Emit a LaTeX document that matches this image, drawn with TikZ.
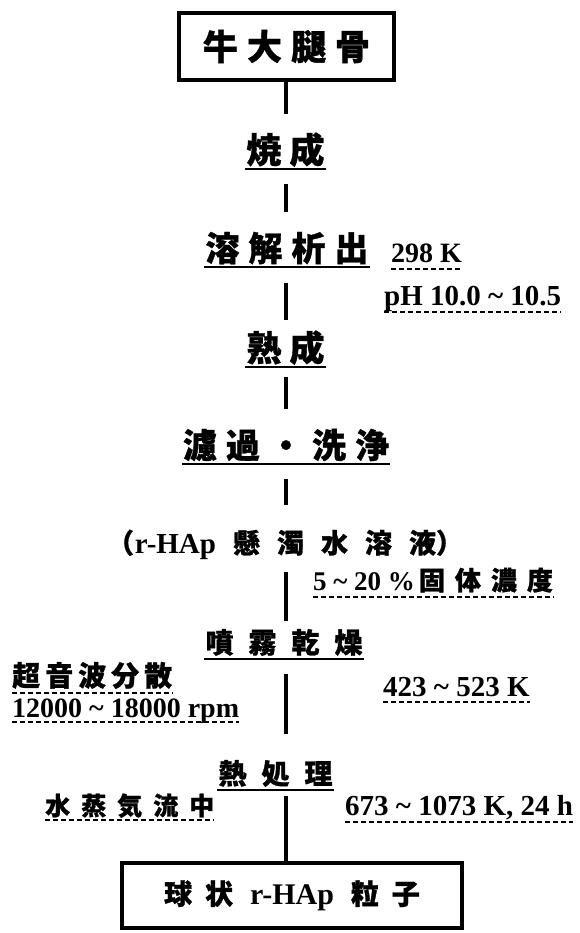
\documentclass[tikz,border=0pt]{standalone}
\usepackage{fontspec}
\setmainfont{Liberation Serif}
\newfontfamily\cjk{Noto Sans CJK JP Bold}[FakeBold=1]
\newcommand\fs[1]{\fontsize{#1}{#1}\selectfont}
\newcommand\ck[1]{\kern#1pt\relax}
\usetikzlibrary{calc}
\begin{document}
\begin{tikzpicture}[x=1pt,y=-1pt,
  every node/.style={inner sep=0pt, font=\bfseries},
  boxnode/.style={draw, line width=3.5pt, inner sep=0pt},
  stepnode/.style={anchor=base},
  lbl/.style={anchor=base west},
  conn/.style={line width=3.5pt},
  ul/.style={line width=2.5pt},
  dul/.style={line width=1.2pt, dash pattern=on 5pt off 3pt}]
\useasboundingbox (0,0) rectangle (580,933);
\fill[white] (0,0) rectangle (580,933);
\coordinate (axis) at (286,0);

% main steps
\node[boxnode, minimum width=215pt, minimum height=67pt] (top) at (286.5,46.5) {\cjk\fs{35}牛\ck9大\ck9腿\ck9骨};
\node[stepnode] (s1) at (285.5,163) {\cjk\fs{35}焼\ck8成};
\node[stepnode] (s2) at (287,261) {\cjk\fs{34}溶\ck9解\ck9析\ck9出};
\node[stepnode] (s3) at (285.5,361) {\cjk\fs{35}熟\ck8成};
\node[stepnode] (s4) at (286,458) {\cjk\fs{34}濾\ck9過\ck9・\ck9洗\ck9浄};
\node[stepnode] (s5) at (285,553) {\cjk\fs{27}（\ck1{\rmfamily\fs{29}r-HAp}\ck{17}懸\ck{17}濁\ck{17}水\ck{17}溶\ck{17}液）};
\node[stepnode] (s6) at (284,653) {\cjk\fs{28}噴\ck{15}霧\ck{15}乾\ck{15}燥};
\node[stepnode] (s7) at (275.5,784) {\cjk\fs{28}熱\ck{15}処\ck{15}理};
\node[boxnode, minimum width=340pt, minimum height=65pt] (bot) at (292,895.5) {\cjk\fs{28}球\ck{13}状\ck{17}{\rmfamily\fs{30}r-HAp}\ck{17}粒\ck{13}子};

% underlines of steps
\foreach \n in {s1,s2,s3,s4,s6,s7}
  \draw[ul] ($(\n.base west)+(-1,6)$) -- ($(\n.base east)+(1,6)$);

% connectors
\draw[conn, shorten >=18pt] (top.south -| axis) -- (s1.north -| axis);
\draw[conn, shorten <=17pt, shorten >=20pt] (s1.south -| axis) -- (s2.north -| axis);
\draw[conn, shorten <=19pt, shorten >=10pt] (s2.south -| axis) -- (s3.north -| axis);
\draw[conn, shorten <=12pt, shorten >=20pt] (s3.south -| axis) -- (s4.north -| axis);
\draw[conn, shorten <=18pt, shorten >=25pt] (s4.south -| axis) -- (s5.north -| axis);
\draw[conn, shorten <=13pt, shorten >=8pt] (s5.south -| axis) -- (s6.north -| axis);
\draw[conn, shorten <=18pt, shorten >=26pt] (s6.south -| axis) -- (s7.north -| axis);
\draw[conn, shorten <=9pt] (s7.south -| axis) -- (bot.north -| axis);

% annotations
\node[lbl] (a1) at (391,262) {\fs{28}298 K};
\node[lbl] (a2) at (384,305) {\fs{29}pH 10.0 \textasciitilde{} 10.5};
\node[lbl] (a3) at (313,590) {\fs{27}5 \textasciitilde{} 20 \%\ck4{\cjk\fs{26}固\ck{10}体\ck{10}濃\ck{10}度}};
\node[lbl] (a4) at (12,686) {\cjk\fs{28}超\ck5音\ck5波\ck5分\ck5散};
\node[lbl] (a5) at (12,717) {\fs{28}12000 \textasciitilde{} 18000 rpm};
\node[lbl] (a6) at (383,696) {\fs{29}423 \textasciitilde{} 523 K};
\node[lbl] (a7) at (45,815) {\cjk\fs{25}水\ck{11}蒸\ck{11}気\ck{11}流\ck{11}中};
\node[lbl] (a8) at (345,815) {\fs{29}673 \textasciitilde{} 1073 K, 24 h};

\foreach \n/\d in {a1/7,a2/7,a3/7,a4/7,a5/5,a6/6,a7/5,a8/7}
  \draw[dul] ($(\n.base west)+(0,\d)$) -- ($(\n.base east)+(0,\d)$);
\end{tikzpicture}
\end{document}
